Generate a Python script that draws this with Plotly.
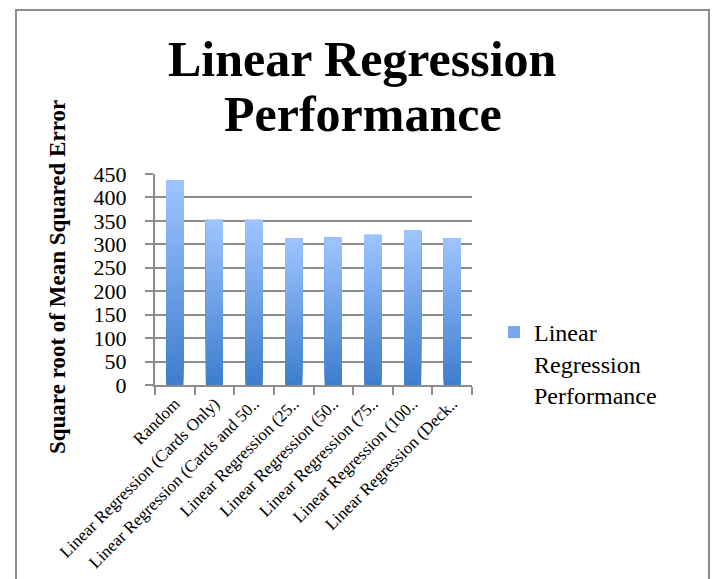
import plotly.graph_objects as go

# Chart data
categories = [
    "Random",
    "Linear Regression (Cards Only)",
    "Linear Regression (Cards and 50..",
    "Linear Regression (25..",
    "Linear Regression (50..",
    "Linear Regression (75..",
    "Linear Regression (100..",
    "Linear Regression (Deck..",
]
rmse_values = [436, 352, 352, 312, 314, 320, 329, 312]
series_name = "Linear<br>Regression<br>Performance"
y_ticks = [0, 50, 100, 150, 200, 250, 300, 350, 400, 450]

FONT = "Liberation Serif"
GRID = "#8c8c8c"
BOTTOM_RGB = (62, 126, 206)
TOP_RGB = (158, 196, 255)
N_STEPS = 60
BAR_GAP = 0.57

fig = go.Figure()

# Base bars carry the values, hover and the legend entry
fig.add_trace(go.Bar(
    x=categories, y=rmse_values,
    name=series_name,
    marker=dict(color="rgb(120,165,235)", line=dict(width=0)),
    showlegend=True,
))

# Vertical gradient: each band runs from its start up to the bar top,
# later (lighter) bands cover the upper part of earlier ones
for k in range(N_STEPS):
    t = k / (N_STEPS - 1)
    r, g, b = (round(lo + (hi - lo) * t) for lo, hi in zip(BOTTOM_RGB, TOP_RGB))
    fig.add_trace(go.Bar(
        x=categories,
        y=[v * (1 - k / N_STEPS) for v in rmse_values],
        base=[v * k / N_STEPS for v in rmse_values],
        marker=dict(color=f"rgb({r},{g},{b})", line=dict(width=0)),
        showlegend=False, hoverinfo="skip",
    ))

# Plot-area pixel geometry used for paper-coordinate placement
W, H = 714, 579
L, R, T, B = 155, 242, 174, 194
pw, ph = W - L - R, H - T - B


def px_x(x):
    return (x - L) / pw


def px_y(y):
    return (H - B - y) / ph


fig.update_layout(
    width=W, height=H,
    margin=dict(l=L, r=R, t=T, b=B, autoexpand=False),
    paper_bgcolor="white", plot_bgcolor="white",
    barmode="overlay", bargap=BAR_GAP,
    font=dict(family=FONT, color="black"),
    showlegend=True,
    legend=dict(
        x=px_x(494), y=px_y(310), xanchor="left", yanchor="top",
        font=dict(family=FONT, size=24, color="black"),
        valign="top", bgcolor="rgba(0,0,0,0)",
    ),
    xaxis=dict(
        type="category",
        automargin=False,
        tickangle=-45,
        tickfont=dict(family=FONT, size=17, color="black"),
        showline=True, linecolor=GRID, linewidth=2,
        ticks="outside", tickson="boundaries", ticklen=8,
        tickcolor=GRID, tickwidth=2,
        showgrid=False,
    ),
    yaxis=dict(
        range=[0, 450],
        automargin=False,
        tickvals=y_ticks,
        tickfont=dict(family=FONT, size=22, color="black"),
        showline=True, linecolor=GRID, linewidth=2,
        ticks="outside", ticklen=8, tickcolor=GRID, tickwidth=2,
        ticklabelstandoff=14,
        showgrid=True, gridcolor=GRID, gridwidth=2,
        zeroline=False,
    ),
    annotations=[
        dict(text="<b>Linear Regression</b>", x=px_x(362.5), y=px_y(59),
             xref="paper", yref="paper", showarrow=False,
             xanchor="center", yanchor="middle",
             font=dict(family=FONT, size=50, color="black")),
        dict(text="<b>Performance</b>", x=px_x(362.5), y=px_y(114),
             xref="paper", yref="paper", showarrow=False,
             xanchor="center", yanchor="middle",
             font=dict(family=FONT, size=50, color="black")),
        dict(text="<b>Square root of Mean Squared Error</b>",
             x=px_x(57), y=px_y(277), xref="paper", yref="paper",
             showarrow=False, textangle=-90,
             xanchor="center", yanchor="middle",
             font=dict(family=FONT, size=23, color="black")),
    ],
    shapes=[
        dict(type="rect", xref="paper", yref="paper",
             x0=px_x(16), x1=px_x(709), y0=px_y(10), y1=px_y(620),
             line=dict(color=GRID, width=2), fillcolor="rgba(0,0,0,0)",
             layer="below"),
    ],
)

fig.write_html("out.html")
